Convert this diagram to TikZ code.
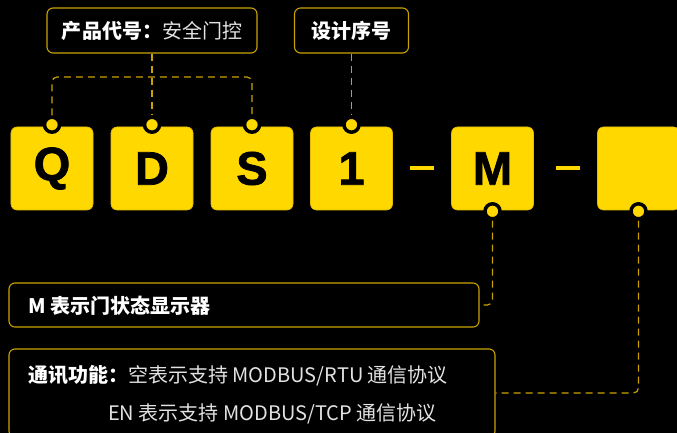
\documentclass[tikz,border=0pt]{standalone}
\usepackage{fontspec}
\setmainfont{Noto Sans CJK SC}
\newfontfamily\letterfont[BoldFeatures={FakeBold=1.6}]{Liberation Sans}
\definecolor{codeyellow}{HTML}{FFD800}
\definecolor{linegold}{HTML}{C9A200}
\definecolor{softwhite}{HTML}{E2E2E2}

\begin{document}
\begin{tikzpicture}[x=1bp,y=-1bp,
  letterbox/.style={draw=linegold!50!codeyellow, line width=0.6bp, fill=codeyellow,
    rounded corners=6bp, minimum width=82bp, minimum height=83bp, inner sep=0pt,
    text=black, font=\letterfont\bfseries\fontsize{47bp}{47bp}\selectfont},
  knob/.style={circle, fill=codeyellow, draw=black, line width=3.5bp,
    minimum size=15bp, inner sep=0pt},
  labelbox/.style={draw=linegold, line width=1.1bp, rounded corners=6bp, inner sep=0pt,
    text=white, font=\fontsize{20bp}{24bp}\selectfont},
  labeltext/.style={anchor=west, inner sep=0pt, text=white,
    font=\fontsize{20bp}{24bp}\selectfont},
  guide/.style={draw=linegold, line width=1.2bp, dash pattern=on 7bp off 5bp,
    rounded corners=5bp},
  hyphen/.style={draw=codeyellow, line width=4bp}]

   \useasboundingbox (0,0) rectangle (677,433);
   \fill[black] (0,0) rectangle (677,433);

   % code letters
   \path (52,168.5) node[letterbox] (Q) {Q};
   \path (152,168.5) node[letterbox] (D) {D};
   \path (252,168.5) node[letterbox] (S) {S};
   \path (351.5,168.5) node[letterbox] (one) {1};
   \path (492.5,168.5) node[letterbox] (M) {M};
   \path (638.5,168.5) node[letterbox] (last) {};

   \draw[hyphen] ([xshift=17bp]one.east) -- ([xshift=-17bp]M.west);
   \draw[hyphen] ([xshift=22bp]M.east) -- ([xshift=-17bp]last.west);

   \path (Q.north) ++(0,-2) node[knob] (Qknob) {};
   \path (D.north) ++(0,-2) node[knob] (Dknob) {};
   \path (S.north) ++(0,-2) node[knob] (Sknob) {};
   \path (one.north) ++(0,-2) node[knob] (oneknob) {};
   \path (M.south) ++(0,1) node[knob] (Mknob) {};
   \path (last.south) ++(0,1) node[knob] (lastknob) {};

   % labels
   \path (152,30.5) node[labelbox, minimum width=210bp, minimum height=45bp] (prodbox)
     {\bfseries 产品代号：\mdseries\color{softwhite}安全门控};
   \path (351.5,30.5) node[labelbox, minimum width=114bp, minimum height=45bp] (serialbox)
     {\bfseries 设计序号};

   \path (244,305) node[labelbox, minimum width=470bp, minimum height=44bp] (mbox) {};
   \path (28,306) node[labeltext] (mtext) {\bfseries M 表示门状态显示器};

   \path (252,393) node[labelbox, minimum width=486bp, minimum height=88bp] (commsbox) {};
   \path (28,376) node[labeltext] (commsa)
     {\bfseries 通讯功能：\mdseries\color{softwhite}空表示支持 MODBUS/RTU 通信协议};
   \path (108,414) node[labeltext, text=softwhite] (commsb)
     {EN 表示支持 MODBUS/TCP 通信协议};

   \coordinate (bracket) at (152,77);
   \draw[guide] (Qknob.north) |- (bracket) -| (Sknob.north);
   \draw[guide] (prodbox.south) -- (Dknob.north);
   \draw[guide] (serialbox.south) -- (oneknob.north);
   \draw[guide] (Mknob.south) |- (mbox.east);
   \draw[guide] (lastknob.south) |- (commsbox.east);
\end{tikzpicture}
\end{document}
